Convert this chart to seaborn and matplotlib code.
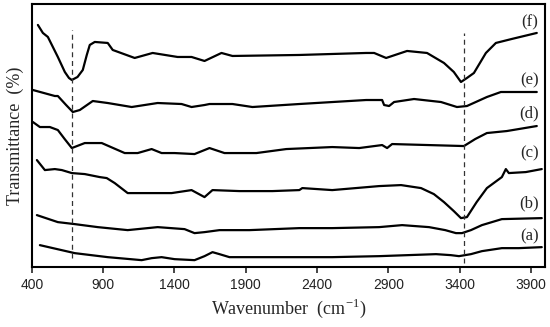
import pandas as pd
import seaborn as sns
import matplotlib.pyplot as plt

# spectra (stacked, arbitrary transmittance units)
wn_a = [456, 701, 932, 1170, 1240, 1310, 1401, 1541, 1611, 1667, 1716, 1786, 2045, 2507, 2836, 3235, 3340, 3396, 3480, 3557, 3697, 3816, 3977]
t_a = [22, 14, 10, 7, 9, 10, 8, 7, 11, 15, 13, 10, 10, 10, 11, 13, 12, 11, 13, 16, 19, 19, 20]

wn_b = [435, 582, 701, 862, 1072, 1142, 1282, 1471, 1541, 1611, 1716, 1926, 2276, 2507, 2836, 2997, 3186, 3300, 3375, 3417, 3480, 3557, 3697, 3977]
t_b = [52, 45, 43, 40, 37, 38, 40, 38, 34, 35, 37, 37, 39, 39, 40, 42, 40, 37, 34, 34, 37, 42, 48, 49]

wn_c = [435, 491, 561, 610, 680, 771, 876, 925, 981, 1072, 1247, 1380, 1520, 1611, 1667, 1856, 2087, 2276, 2297, 2507, 2836, 2990, 3130, 3220, 3291, 3360, 3410, 3452, 3520, 3592, 3697, 3725, 3746, 3865, 3977]
t_c = [107, 97, 98, 97, 94, 93, 90, 89, 84, 74, 74, 74, 77, 70, 77, 76, 76, 77, 79, 77, 81, 82, 79, 73, 65, 56, 49, 50, 65, 79, 90, 98, 94, 95, 98]

wn_d = [407, 456, 526, 582, 630, 680, 771, 890, 1051, 1142, 1240, 1310, 1401, 1541, 1646, 1751, 1975, 2185, 2507, 2696, 2857, 2892, 2927, 3431, 3510, 3592, 3732, 3942]
t_d = [145, 140, 140, 137, 128, 119, 124, 124, 114, 114, 118, 114, 114, 113, 119, 114, 114, 118, 120, 119, 122, 119, 123, 121, 128, 134, 136, 141]

wn_e = [407, 561, 582, 640, 687, 736, 827, 932, 1100, 1282, 1450, 1520, 1611, 1646, 1807, 1947, 2276, 2745, 2801, 2857, 2871, 2906, 2941, 3081, 3270, 3382, 3452, 3592, 3690, 3942]
t_e = [177, 171, 171, 162, 155, 157, 166, 164, 160, 164, 163, 160, 162, 163, 163, 160, 163, 167, 167, 167, 162, 161, 165, 168, 165, 160, 161, 170, 175, 175]

wn_f = [442, 477, 512, 582, 631, 660, 680, 720, 757, 785, 806, 841, 932, 967, 1121, 1247, 1422, 1520, 1611, 1730, 1807, 2276, 2745, 2801, 2885, 3032, 3172, 3291, 3360, 3410, 3452, 3501, 3585, 3655, 3767, 3942]
t_f = [242, 234, 230, 210, 195, 189, 187, 190, 197, 212, 222, 225, 224, 217, 209, 214, 210, 210, 206, 214, 211, 212, 214, 214, 209, 216, 214, 204, 195, 185, 189, 194, 214, 224, 228, 234]

labels = ['(a)', '(b)', '(c)', '(d)', '(e)', '(f)']
label_pos = [31, 64, 114, 154, 187, 245]
marker_lines = [680, 3430]

series = [(wn_a, t_a), (wn_b, t_b), (wn_c, t_c), (wn_d, t_d), (wn_e, t_e), (wn_f, t_f)]

sns.set_style('white')
plt.rcParams['font.family'] = ['Liberation Serif', 'DejaVu Serif']
plt.rcParams['mathtext.fontset'] = 'custom'
plt.rcParams['mathtext.rm'] = 'Liberation Serif'

fig = plt.figure(figsize=(5.5, 3.27), dpi=100)
ax = fig.add_axes([0.058, 0.183, 0.933, 0.805])

for lab, (w, t) in zip(labels, series):
    df = pd.DataFrame({'wn': w, 't': t})
    sns.lineplot(data=df, x='wn', y='t', color='black', lw=1.6, ax=ax,
                 solid_joinstyle='round', solid_capstyle='round')

ax.plot([marker_lines[0]] * 2, [9, 237], ls=(0, (4, 3)), color='#333333', lw=0.9)
ax.plot([marker_lines[1]] * 2, [4, 234], ls=(0, (4, 3)), color='#333333', lw=0.9)

for lab, yp in zip(labels, label_pos):
    ax.text(3890, yp, lab, ha='center', va='center', fontsize=12)

ax.set_xlim(400, 4000)
ax.set_ylim(0, 263)
ax.set_xticks(range(400, 4000, 500))
ax.set_xticklabels([str(v) for v in range(400, 4000, 500)], family='Liberation Sans', fontsize=10, color='#222222')
ax.set_yticks([])
ax.tick_params(axis='x', direction='out', length=4, width=1.2, bottom=True, pad=4)
for s in ax.spines.values():
    s.set_color('black')
    s.set_linewidth(1.5)
ax.set_xlabel('Wavenumber  (cm$^{\\mathrm{-1}}$)', fontsize=13, labelpad=3)
ax.set_ylabel('Transmittance  (%)', fontsize=13, labelpad=6)

fig.savefig('out.png', dpi=100)
